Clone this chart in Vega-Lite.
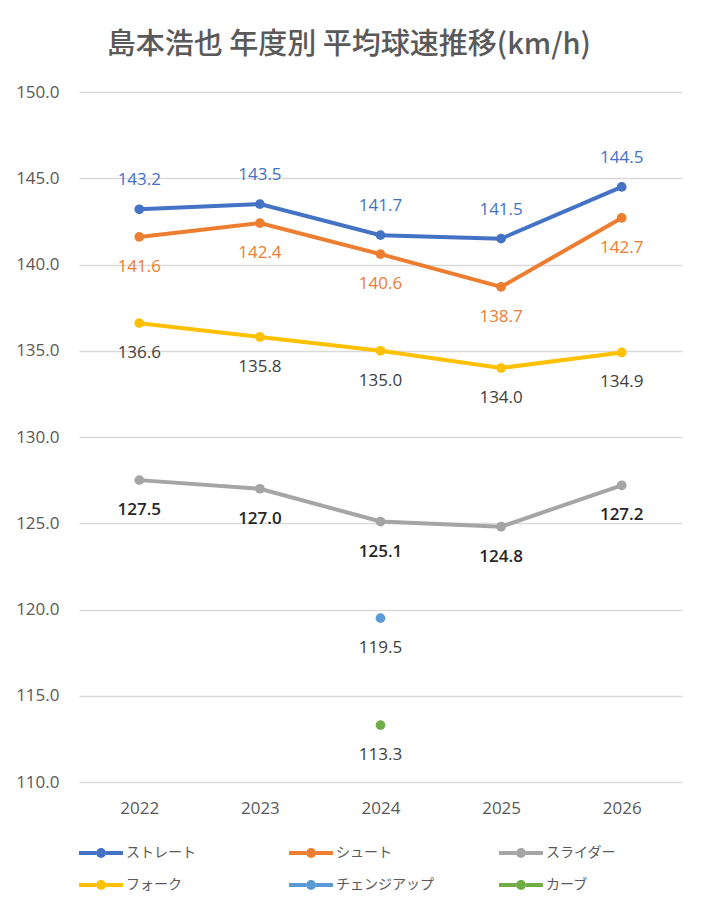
{
  "$schema": "https://vega.github.io/schema/vega-lite/v6.json",
  "width": 705,
  "height": 903,
  "autosize": {"type": "fit", "contains": "padding"},
  "padding": {"left": 15, "right": 23, "top": 31, "bottom": 11},
  "background": "white",
  "title": {
    "text": "島本浩也 年度別 平均球速推移(km/h)",
    "anchor": "middle",
    "frame": "bounds",
    "font": "Noto Sans CJK JP",
    "fontSize": 29,
    "fontWeight": 500,
    "color": "#595959",
    "offset": 23
  },
  "data": {
    "values": [
      {"year": "2022", "pitch": "ストレート", "speed": 143.2},
      {"year": "2023", "pitch": "ストレート", "speed": 143.5},
      {"year": "2024", "pitch": "ストレート", "speed": 141.7},
      {"year": "2025", "pitch": "ストレート", "speed": 141.5},
      {"year": "2026", "pitch": "ストレート", "speed": 144.5},
      {"year": "2022", "pitch": "シュート", "speed": 141.6},
      {"year": "2023", "pitch": "シュート", "speed": 142.4},
      {"year": "2024", "pitch": "シュート", "speed": 140.6},
      {"year": "2025", "pitch": "シュート", "speed": 138.7},
      {"year": "2026", "pitch": "シュート", "speed": 142.7},
      {"year": "2022", "pitch": "スライダー", "speed": 127.5},
      {"year": "2023", "pitch": "スライダー", "speed": 127.0},
      {"year": "2024", "pitch": "スライダー", "speed": 125.1},
      {"year": "2025", "pitch": "スライダー", "speed": 124.8},
      {"year": "2026", "pitch": "スライダー", "speed": 127.2},
      {"year": "2022", "pitch": "フォーク", "speed": 136.6},
      {"year": "2023", "pitch": "フォーク", "speed": 135.8},
      {"year": "2024", "pitch": "フォーク", "speed": 135.0},
      {"year": "2025", "pitch": "フォーク", "speed": 134.0},
      {"year": "2026", "pitch": "フォーク", "speed": 134.9},
      {"year": "2024", "pitch": "チェンジアップ", "speed": 119.5},
      {"year": "2024", "pitch": "カーブ", "speed": 113.3}
    ]
  },
  "encoding": {
    "x": {
      "field": "year",
      "type": "ordinal",
      "title": null,
      "scale": {"type": "point", "padding": 0.5},
      "axis": {
        "labelAngle": 0,
        "ticks": false,
        "domain": false,
        "labelPadding": 18,
        "labelFontSize": 17,
        "labelColor": "#595959",
        "labelFont": "Open Sans"
      }
    },
    "y": {
      "field": "speed",
      "type": "quantitative",
      "title": null,
      "scale": {"domain": [110, 150], "zero": false, "nice": false},
      "axis": {
        "values": [110, 115, 120, 125, 130, 135, 140, 145, 150],
        "format": ".1f",
        "ticks": false,
        "domain": false,
        "labelPadding": 20,
        "labelFontSize": 17,
        "labelColor": "#595959",
        "labelFont": "Open Sans",
        "gridColor": "#d9d9d9",
        "gridWidth": 1.3
      }
    },
    "color": {
      "field": "pitch",
      "type": "nominal",
      "title": null,
      "scale": {
        "domain": ["ストレート", "シュート", "スライダー", "フォーク", "チェンジアップ", "カーブ"],
        "range": ["#4472C4", "#ED7D31", "#A5A5A5", "#FFC000", "#5B9BD5", "#70AD47"]
      },
      "legend": {
        "title": " ",
        "titleOrient": "right",
        "titlePadding": 6,
        "orient": "bottom",
        "direction": "horizontal",
        "columns": 3,
        "gridAlign": "all",
        "columnPadding": 65,
        "rowPadding": 10,
        "offset": 22,
        "symbolType": "M-1,-0.13H0.14V0.13H-1Z M0.8,-0.13H1.93V0.13H0.8Z M0.14,0A0.33,0.33 0 1,1 0.8,0A0.33,0.33 0 1,1 0.14,0Z",
        "symbolSize": 900,
        "symbolStrokeWidth": 0,
        "labelFontSize": 14,
        "labelColor": "#595959",
        "labelFont": "Noto Sans CJK JP",
        "labelOffset": 17,
        "encode": {
          "symbols": {
            "update": {
              "fill": {"scale": "color", "field": "value"},
              "fillOpacity": {"value": 1},
              "strokeWidth": {"value": 0}
            }
          }
        }
      }
    }
  },
  "layer": [
    {"mark": {"type": "line", "strokeWidth": 4}},
    {"mark": {"type": "point", "filled": true, "size": 95, "opacity": 1}},
    {
      "transform": [{"filter": "datum.pitch == 'ストレート'"}],
      "mark": {"type": "text", "dy": -29, "fontSize": 17, "font": "Open Sans"},
      "encoding": {"text": {"field": "speed", "type": "quantitative", "format": ".1f"}, "color": {"value": "#4472C4"}}
    },
    {
      "transform": [{"filter": "datum.pitch == 'シュート'"}],
      "mark": {"type": "text", "dy": 30, "fontSize": 17, "font": "Open Sans"},
      "encoding": {"text": {"field": "speed", "type": "quantitative", "format": ".1f"}, "color": {"value": "#ED7D31"}}
    },
    {
      "transform": [{"filter": "datum.pitch == 'スライダー'"}],
      "mark": {"type": "text", "dy": 30, "fontSize": 17, "font": "Open Sans", "fontWeight": 600},
      "encoding": {"text": {"field": "speed", "type": "quantitative", "format": ".1f"}, "color": {"value": "#262626"}}
    },
    {
      "transform": [{"filter": "datum.pitch == 'フォーク' || datum.pitch == 'チェンジアップ' || datum.pitch == 'カーブ'"}],
      "mark": {"type": "text", "dy": 30, "fontSize": 17, "font": "Open Sans"},
      "encoding": {"text": {"field": "speed", "type": "quantitative", "format": ".1f"}, "color": {"value": "#404040"}}
    }
  ],
  "config": {
    "view": {"stroke": null}
  }
}
